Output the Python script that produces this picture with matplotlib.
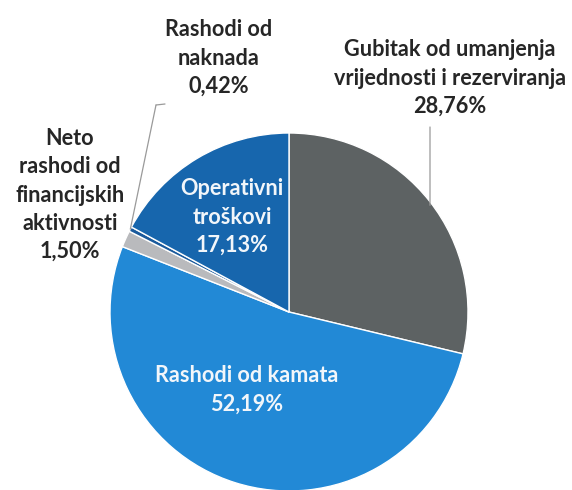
import numpy as np
import matplotlib.pyplot as plt

# Share of expenses (%), clockwise from 12 o'clock
labels = ["Gubitak od umanjenja\nvrijednosti i rezerviranja",
          "Rashodi od kamata",
          "Neto\nrashodi od\nfinancijskih\naktivnosti",
          "Rashodi od\nnaknada",
          "Operativni\ntroškovi"]
shares = [28.76, 52.19, 1.50, 0.42, 17.13]
colors = ["#5d6263", "#2289d6", "#b9babd", "#1a5a9c", "#1766ad"]

plt.rcParams['font.family'] = ['Lato', 'DejaVu Sans']

fig = plt.figure(figsize=(5.72, 4.90), dpi=100)
# pie centre at pixel (289, 312), radius 179 px
W, H = 572, 490
cx, cy, r = 289, 312, 179
ax = fig.add_axes([(cx - r) / W, (H - cy - r) / H, 2 * r / W, 2 * r / H])

wedges, _ = ax.pie(shares, colors=colors, startangle=90, counterclock=False,
                   wedgeprops=dict(edgecolor="white", linewidth=1.0))
ax.set_xlim(-1, 1)
ax.set_ylim(-1, 1)
ax.axis("off")


def px(x, y):
    # pixel position -> data coordinates of the pie axes
    return (x - cx) / r, (cy - y) / r


def pct(v):
    return f"{v:.2f}%".replace(".", ",")


text_pos = [(450, 78), (247, 390), (70, 195), (219, 58), (232, 217)]
inside = [False, True, False, False, True]
for lab, v, pos, ins in zip(labels, shares, text_pos, inside):
    x, y = px(*pos)
    ax.text(x, y, lab + "\n" + pct(v), ha="center", va="center",
            fontsize=15.6, fontweight="bold", linespacing=1.42,
            color="#f2f6fa" if ins else "#262626", clip_on=False)

# leader lines
line_style = dict(arrowstyle="-", color="#9a9a9a", lw=0.9, shrinkA=0, shrinkB=0)

def edge(w, frac=0.5):
    a = np.deg2rad(w.theta1 + (w.theta2 - w.theta1) * frac)
    return np.cos(a), np.sin(a)

ax.annotate("", xy=edge(wedges[3]), xytext=px(156, 105),
            arrowprops=line_style, annotation_clip=False)
ax.annotate("", xy=px(156, 105), xytext=px(165, 104),
            arrowprops=line_style, annotation_clip=False)
gx, _ = px(430, 0)
ax.annotate("", xy=(gx, np.sqrt(1 - gx ** 2) - 0.02), xytext=px(430, 127),
            arrowprops=line_style, annotation_clip=False)

plt.savefig("out.png", dpi=100)
